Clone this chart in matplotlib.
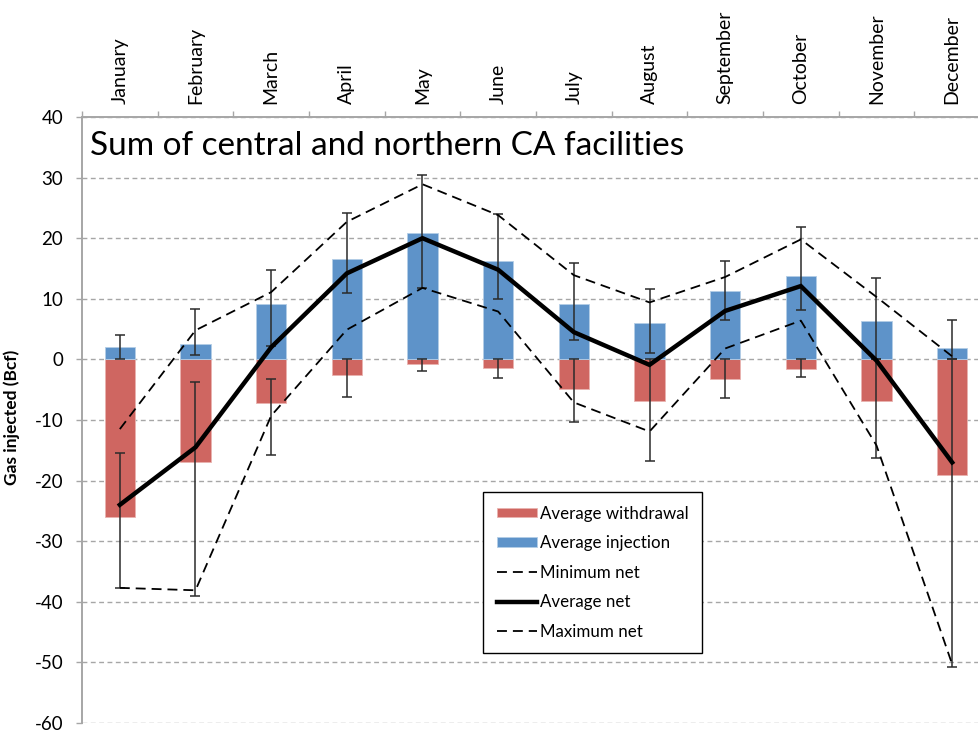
import matplotlib
matplotlib.use("Agg")
import matplotlib.pyplot as plt
import numpy as np

plt.rcParams["font.family"] = ["Lato", "DejaVu Sans"]
plt.rcParams["axes.unicode_minus"] = False

# --- Data (Bcf) ---
months = ["January", "February", "March", "April", "May", "June",
          "July", "August", "September", "October", "November", "December"]
avg_injection = [2.0, 2.5, 9.1, 16.6, 20.8, 16.3, 9.2, 6.0, 11.3, 13.8, 6.3, 1.8]
avg_withdrawal = [-26.0, -17.0, -7.2, -2.5, -0.8, -1.5, -4.9, -6.8, -3.2, -1.6, -6.9, -19.0]
inj_range_low = [0.0, 0.7, 2.2, 11.0, 11.8, 10.0, 3.2, 1.0, 6.5, 8.2, 0.0, 0.0]
inj_range_high = [4.0, 8.3, 14.7, 24.2, 30.4, 24.0, 15.9, 11.6, 16.3, 21.9, 13.4, 6.5]
wd_range_low = [-37.7, -39.0, -15.8, -6.2, -1.9, -3.1, -10.3, -16.8, -6.3, -2.9, -16.2, -50.7]
wd_range_high = [-15.4, -3.7, -3.2, 0.0, 0.0, 0.0, 0.0, 0.0, 0.0, 0.0, 0.0, 0.0]
min_net = [-37.7, -38.1, -9.3, 4.9, 11.8, 7.9, -7.1, -11.9, 1.8, 6.4, -14.2, -50.3]
avg_net = [-24.0, -14.5, 2.0, 14.2, 20.0, 14.8, 4.5, -0.9, 8.0, 12.1, -0.2, -17.0]
max_net = [-11.5, 4.8, 11.1, 22.7, 28.9, 23.8, 13.9, 9.4, 13.6, 19.8, 10.3, 0.5]
y_ticks = list(range(-60, 41, 10))

RED = "#CF6661"
BLUE = "#5E93C9"
GRID = "#A6A6A6"

fig = plt.figure(figsize=(9.79, 7.34), dpi=100)
ax = fig.add_axes([82 / 979, 11 / 734, 908 / 979, 606 / 734])

x = np.arange(len(months))
inj = np.array(avg_injection)
wd = np.array(avg_withdrawal)

# Bars
ax.bar(x, wd, width=0.4, color=RED, edgecolor="#E9B3B0", linewidth=0.6,
       label="Average withdrawal", zorder=2)
ax.bar(x, inj, width=0.4, color=BLUE, edgecolor="#B3CDE6", linewidth=0.6,
       label="Average injection", zorder=2)

# Error bars as ranges around each bar
ax.errorbar(x, inj, yerr=[inj - np.array(inj_range_low), np.array(inj_range_high) - inj],
            fmt="none", ecolor="#2b2b2b", elinewidth=1.1, capsize=3.5, capthick=1.1, zorder=3)
ax.errorbar(x, wd, yerr=[wd - np.array(wd_range_low), np.array(wd_range_high) - wd],
            fmt="none", ecolor="#2b2b2b", elinewidth=1.1, capsize=3.5, capthick=1.1, zorder=3)

# Net lines
ax.plot(x, min_net, color="black", lw=1.3, dashes=(5.5, 3.3), label="Minimum net", zorder=4)
ax.plot(x, avg_net, color="black", lw=3.2, label="Average net", zorder=5,
        solid_joinstyle="miter")
ax.plot(x, max_net, color="black", lw=1.3, dashes=(5.5, 3.3), label="Maximum net", zorder=4)

# Axes styling
ax.set_xlim(-0.5, len(months) - 0.5)
ax.set_ylim(-60, 40)
ax.set_yticks(y_ticks)
ax.tick_params(axis="y", direction="out", length=4.5, width=1, color=GRID,
               labelsize=13.5, pad=9)

ax.xaxis.tick_top()
ax.set_xticks(np.arange(-0.5, len(months), 1.0))
ax.set_xticklabels([])
ax.set_xticks(x, minor=True)
ax.set_xticklabels(months, minor=True, rotation=90, fontsize=14, va="bottom", ha="center")
ax.tick_params(axis="x", which="major", direction="out", length=4.5, width=1, color=GRID)
ax.tick_params(axis="x", which="minor", length=0, pad=9)

for side in ["bottom", "right"]:
    ax.spines[side].set_visible(False)
for side in ["left", "top"]:
    ax.spines[side].set_color(GRID)
    ax.spines[side].set_linewidth(1.4)

ax.yaxis.grid(True, color=GRID, linestyle=(0, (3.5, 2.5)), linewidth=1.0, zorder=0)
ax.set_axisbelow(True)

ax.set_ylabel("Gas injected (Bcf)", fontsize=12.5, fontweight="bold")
ax.yaxis.set_label_coords(-0.0683, 0.505)

ax.text(0.009, 0.952, "Sum of central and northern CA facilities", transform=ax.transAxes,
        fontsize=24, va="center", ha="left")

handles, labels = ax.get_legend_handles_labels()
order = ["Average withdrawal", "Average injection", "Minimum net", "Average net", "Maximum net"]
hmap = dict(zip(labels, handles))
leg = ax.legend([hmap[k] for k in order], order, loc="upper left",
                bbox_to_anchor=(0.4416, 0.381), fontsize=12.2, frameon=True,
                fancybox=False, edgecolor="black", framealpha=1,
                handlelength=2.4, handletextpad=0.15, labelspacing=0.8,
                borderpad=0.8, handleheight=0.5, borderaxespad=0)
leg.get_frame().set_linewidth(1.0)

fig.savefig("out.png", dpi=100)
